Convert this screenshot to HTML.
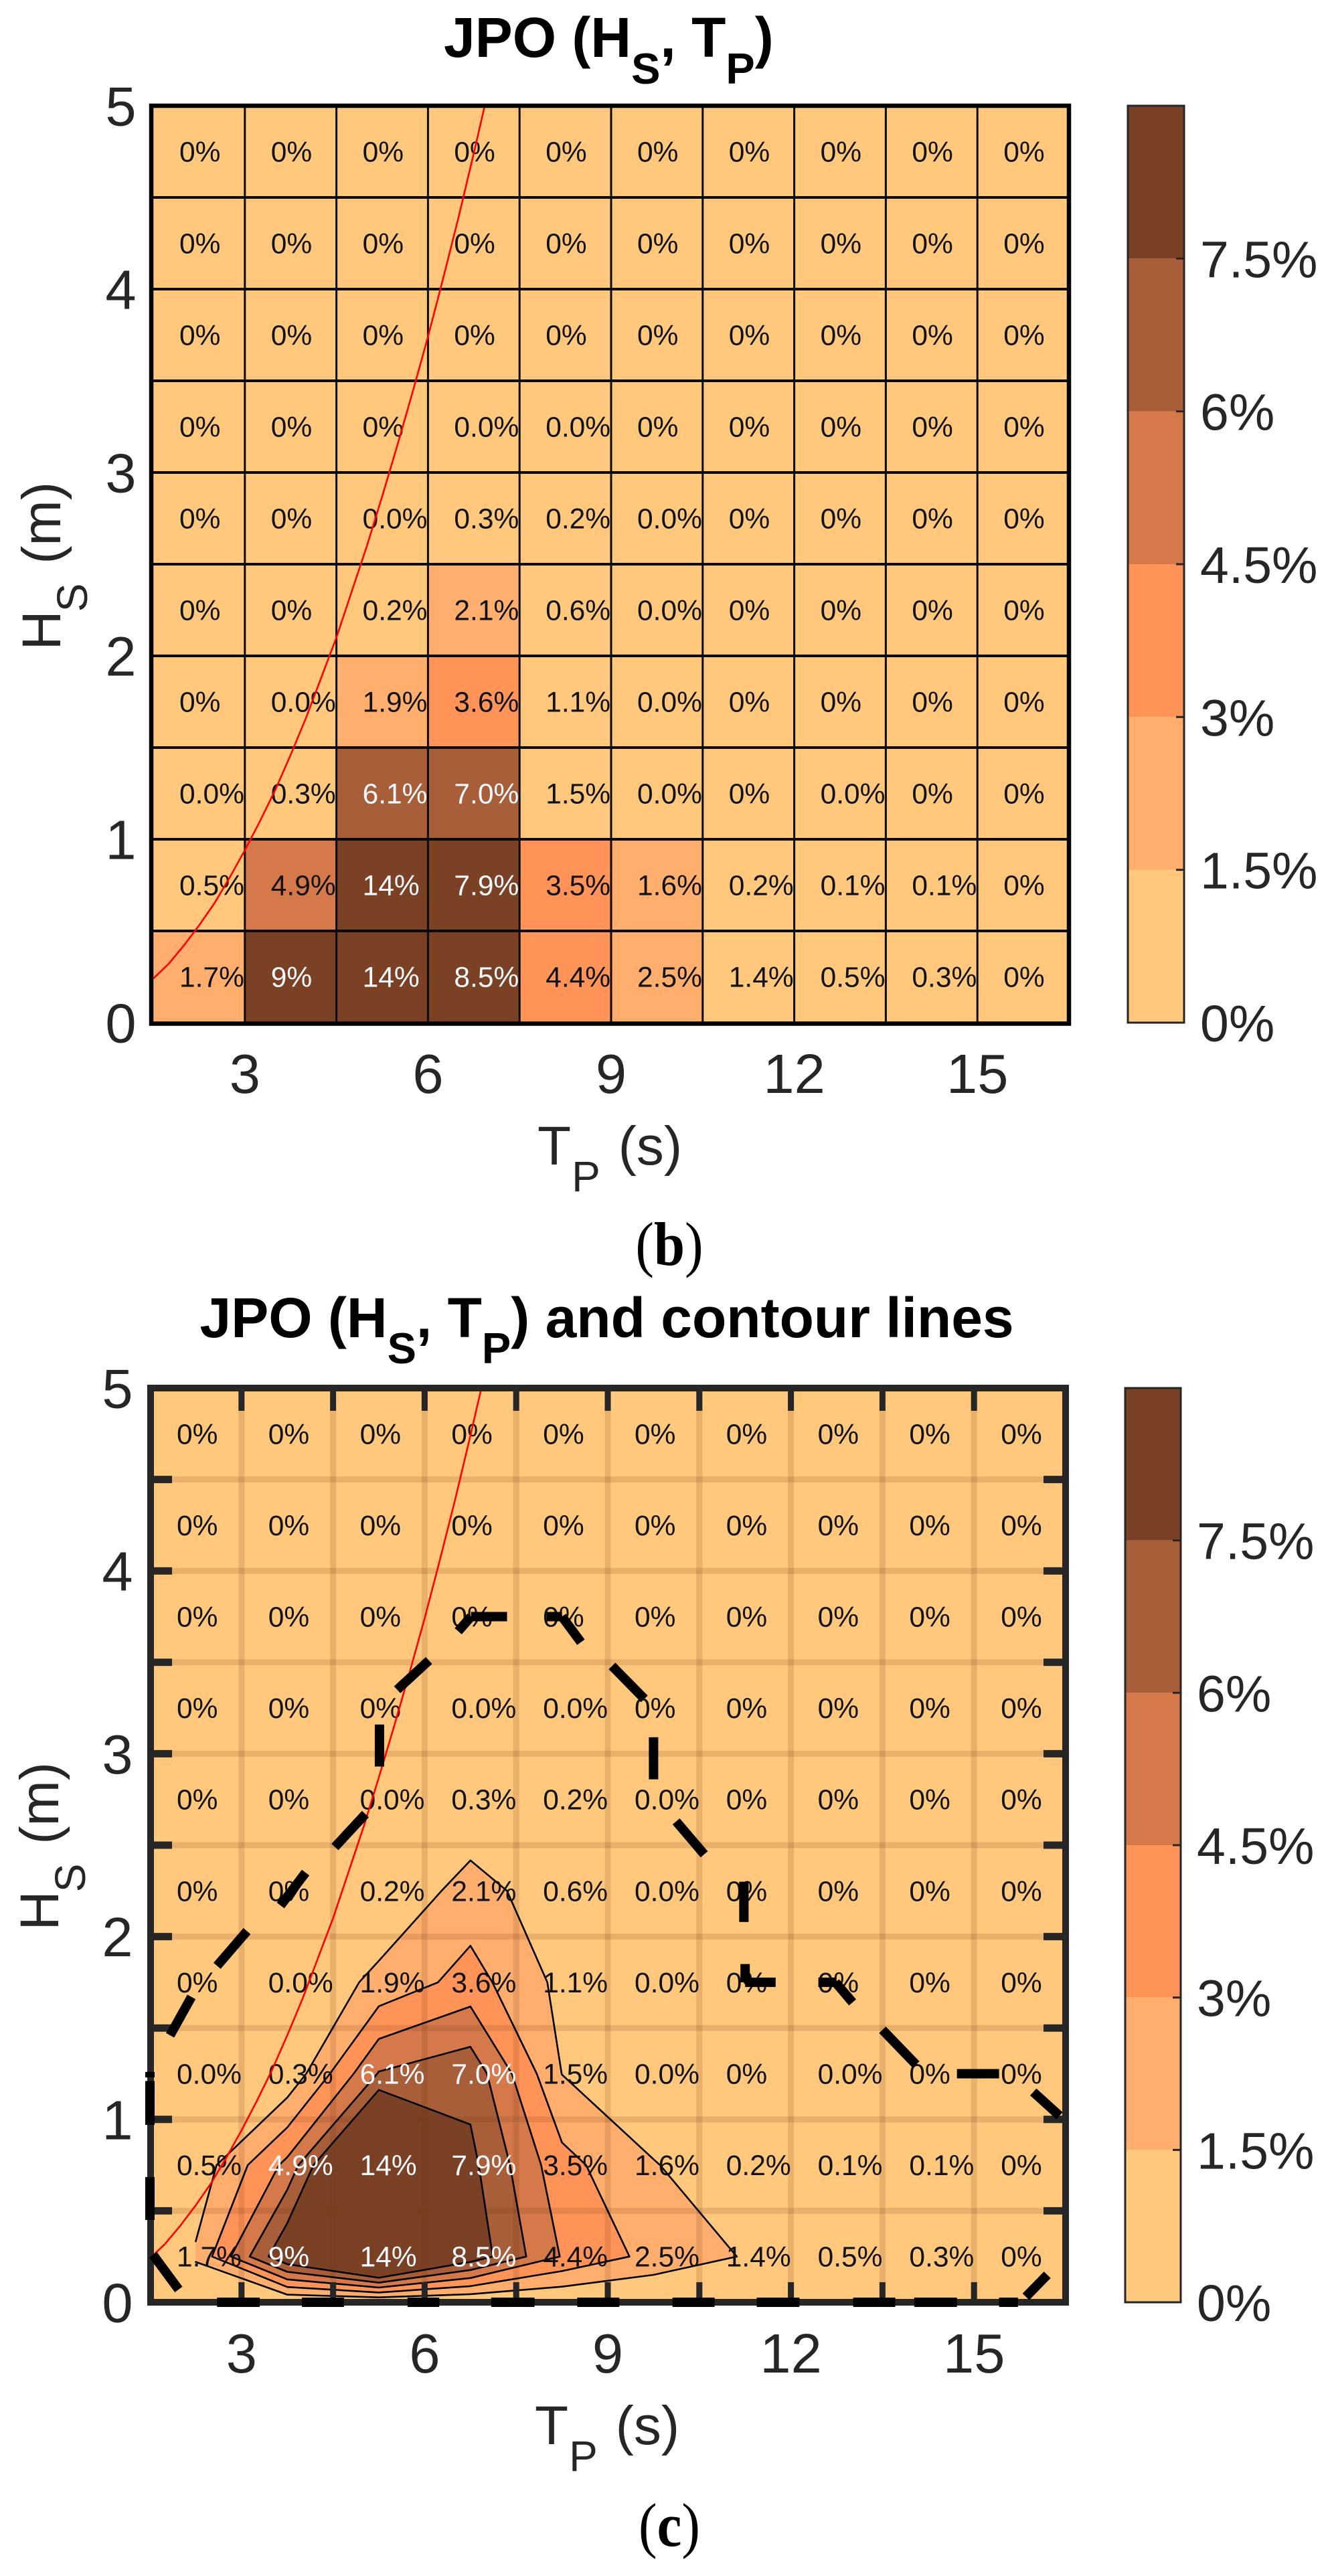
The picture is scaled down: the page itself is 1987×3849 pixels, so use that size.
<!DOCTYPE html>
<html lang="en">
<head>
<meta charset="utf-8">
<title>JPO (HS, TP) charts</title>
<style>
html,body{margin:0;padding:0;background:#fff;}
svg{display:block;font-family:"Liberation Sans",sans-serif;}
</style>
</head>
<body>
<svg id="figure" xmlns="http://www.w3.org/2000/svg" width="1987" height="3849" viewBox="0 0 1987 3849">
  <rect x="0" y="0" width="1987" height="3849" fill="#ffffff"/>

  <text x="663" y="85" font-size="84" font-weight="bold" fill="#000">JPO (H<tspan dy="40" font-size="65">S</tspan><tspan dy="-40">, T</tspan><tspan dy="40" font-size="65">P</tspan><tspan dy="-40">)</tspan></text>
  <text transform="translate(90,971.5) rotate(-90)" font-size="82" fill="#262626">H<tspan dy="40" dx="-2" font-size="64">S</tspan><tspan dy="-40" dx="6"> (m)</tspan></text>
  <text x="803" y="1740" font-size="82" fill="#262626">T<tspan dy="40" dx="1" font-size="64">P</tspan><tspan dy="-40" dx="4"> (s)</tspan></text>
  <g id="panel-b"></g>
  <text transform="translate(1000,1890) scale(0.9,1)" text-anchor="middle" font-family="'Liberation Serif',serif" font-size="92" fill="#000">(<tspan font-weight="bold">b</tspan>)</text>

  <text x="298.5" y="1998" font-size="84" font-weight="bold" fill="#000">JPO (H<tspan dy="39" font-size="65">S</tspan><tspan dy="-39">, T</tspan><tspan dy="39" font-size="65">P</tspan><tspan dy="-39">) and contour lines</tspan></text>
  <text transform="translate(87,2884.5) rotate(-90)" font-size="82" fill="#262626">H<tspan dy="40" dx="-2" font-size="64">S</tspan><tspan dy="-40" dx="6"> (m)</tspan></text>
  <text x="799" y="3652" font-size="82" fill="#262626">T<tspan dy="40" dx="1" font-size="64">P</tspan><tspan dy="-40" dx="4"> (s)</tspan></text>
  <g id="panel-c"></g>
  <text transform="translate(1000,3804) scale(0.9,1)" text-anchor="middle" font-family="'Liberation Serif',serif" font-size="92" fill="#000">(<tspan font-weight="bold">c</tspan>)</text>
</svg>

<script>
// ---------- data ----------
const tpEdges = [1.5, 3, 4.5, 6, 7.5, 9, 10.5, 12, 13.5, 15, 16.5];
const hsEdges = [0, 0.5, 1, 1.5, 2, 2.5, 3, 3.5, 4, 4.5, 5];
const xTicks = [3, 6, 9, 12, 15];
const yTicks = [0, 1, 2, 3, 4, 5];

// JPO values (percent), first row is the lowest HS bin
const jpoValues = [
  [1.7, 9, 14, 8.5, 4.4, 2.5, 1.4, 0.5, 0.3, 0],
  [0.5, 4.9, 14, 7.9, 3.5, 1.6, 0.2, 0.1, 0.1, 0],
  [0.04, 0.3, 6.1, 7.0, 1.48, 0.04, 0, 0.04, 0, 0],
  [0, 0.04, 1.9, 3.6, 1.1, 0.04, 0, 0, 0, 0],
  [0, 0, 0.2, 2.1, 0.6, 0.04, 0, 0, 0, 0],
  [0, 0, 0.04, 0.3, 0.2, 0.04, 0, 0, 0, 0],
  [0, 0, 0, 0.04, 0.04, 0, 0, 0, 0, 0],
  [0, 0, 0, 0, 0, 0, 0, 0, 0, 0],
  [0, 0, 0, 0, 0, 0, 0, 0, 0, 0],
  [0, 0, 0, 0, 0, 0, 0, 0, 0, 0]
];
const jpoLabels = [
  ['1.7%','9%','14%','8.5%','4.4%','2.5%','1.4%','0.5%','0.3%','0%'],
  ['0.5%','4.9%','14%','7.9%','3.5%','1.6%','0.2%','0.1%','0.1%','0%'],
  ['0.0%','0.3%','6.1%','7.0%','1.5%','0.0%','0%','0.0%','0%','0%'],
  ['0%','0.0%','1.9%','3.6%','1.1%','0.0%','0%','0%','0%','0%'],
  ['0%','0%','0.2%','2.1%','0.6%','0.0%','0%','0%','0%','0%'],
  ['0%','0%','0.0%','0.3%','0.2%','0.0%','0%','0%','0%','0%'],
  ['0%','0%','0%','0.0%','0.0%','0%','0%','0%','0%','0%'],
  ['0%','0%','0%','0%','0%','0%','0%','0%','0%','0%'],
  ['0%','0%','0%','0%','0%','0%','0%','0%','0%','0%'],
  ['0%','0%','0%','0%','0%','0%','0%','0%','0%','0%']
];

const colorLevels = [1.5, 3, 4.5, 6, 7.5];
const colorbarTicks = [0, 1.5, 3, 4.5, 6, 7.5];
const colorbarLabels = ['0%', '1.5%', '3%', '4.5%', '6%', '7.5%'];
const colorbarMax = 9;
const bandColors = ['#FFC87C', '#FFAE6E', '#FF9358', '#D5784A', '#A85E38', '#7A4125'];

// Wave-steepness limit (red curve)
const steepnessTp = [1.5, 1.75, 2, 2.25, 2.5, 2.75, 3, 3.25, 3.5, 3.75, 4, 4.25, 4.5, 4.75, 5, 5.25, 5.5, 5.75, 6, 6.25, 6.5, 6.75, 6.93];
const steepnessHs = [0.24, 0.32, 0.42, 0.53, 0.65, 0.79, 0.94, 1.1, 1.27, 1.46, 1.66, 1.88, 2.1, 2.35, 2.6, 2.87, 3.15, 3.44, 3.74, 4.06, 4.39, 4.74, 5];

// Thick dashed boundary: each entry is [tpStart, hsStart, tpEnd, hsEnd]
const boundaryDashes = [
  [1.55,0.26,1.97,0.07],[1.5,0.97,1.5,1.21],[1.5,0.45,1.5,0.685],[1.5,1.23,1.5,1.26],
  [1.83,1.46,2.18,1.67],[2.6,1.84,3.09,2.03],[3.64,2.17,4.05,2.35],[4.53,2.49,5.03,2.67],
  [5.26,2.93,5.26,3.16],[5.55,3.35,6.07,3.51],[6.55,3.67,6.76,3.75],[6.76,3.75,7.35,3.75],
  [8,3.75,8.25,3.75],[8.25,3.75,8.56,3.61],[9.07,3.48,9.6,3.3],[9.75,2.86,9.75,3.09],
  [10.12,2.63,10.58,2.45],[11.23,2.08,11.23,2.3],[11.25,1.85,11.25,1.75],[11.25,1.75,11.75,1.75],
  [12.45,1.75,12.73,1.75],[12.73,1.75,13.01,1.64],[13.5,1.49,14.05,1.3],[14.72,1.25,15.41,1.25],
  [15.97,1.15,16.4,1.02],[15.85,0.03,16.2,0.15],
  [2.6,0,3.3,0],[3.99,0,4.68,0],[5.72,0,6.24,0],[7.09,0,7.8,0],[8.5,0,9.19,0],[10.06,0,10.75,0],
  [11.44,0,12.14,0],[13.02,0,13.71,0],[14.02,0,14.72,0],[15.41,0,15.72,0]
];

// ---------- drawing ----------
const NS = 'http://www.w3.org/2000/svg';

function make(parent, tag, attrs, text) {
  const el = document.createElementNS(NS, tag);
  for (const k in attrs) el.setAttribute(k, attrs[k]);
  if (text !== undefined) el.textContent = text;
  parent.appendChild(el);
  return el;
}

function bandIndex(v) {
  let i = 0;
  for (const l of colorLevels) if (v >= l) i++;
  return i;
}

function contourData() {
  // Field sampled at bin centres plus a zero row at HS = 0
  const tp = [];
  for (let i = 0; i < tpEdges.length - 1; i++) tp.push((tpEdges[i] + tpEdges[i + 1]) / 2);
  const hs = [0];
  for (let j = 0; j < hsEdges.length - 1; j++) hs.push((hsEdges[j] + hsEdges[j + 1]) / 2);
  const z = [tp.map(() => 0)].concat(jpoValues);
  return { tp, hs, z };
}

function contourPaths(level, xs, ys) {
  const { tp, hs, z } = contourData();
  let fill = '', line = '';
  for (let j = 0; j < hs.length - 1; j++) {
    for (let i = 0; i < tp.length - 1; i++) {
      const c = [
        [tp[i], hs[j], z[j][i]],
        [tp[i + 1], hs[j], z[j][i + 1]],
        [tp[i + 1], hs[j + 1], z[j + 1][i + 1]],
        [tp[i], hs[j + 1], z[j + 1][i]]
      ];
      const poly = [], cross = [];
      for (let k = 0; k < 4; k++) {
        const a = c[k], b = c[(k + 1) % 4];
        if (a[2] >= level) poly.push([a[0], a[1]]);
        if ((a[2] >= level) !== (b[2] >= level)) {
          const f = (level - a[2]) / (b[2] - a[2]);
          const p = [a[0] + f * (b[0] - a[0]), a[1] + f * (b[1] - a[1])];
          poly.push(p);
          cross.push(p);
        }
      }
      if (poly.length > 2) {
        fill += 'M' + poly.map(p => xs(p[0]).toFixed(1) + ' ' + ys(p[1]).toFixed(1)).join('L') + 'Z';
      }
      for (let k = 0; k + 1 < cross.length; k += 2) {
        line += 'M' + xs(cross[k][0]).toFixed(1) + ' ' + ys(cross[k][1]).toFixed(1) +
                'L' + xs(cross[k + 1][0]).toFixed(1) + ' ' + ys(cross[k + 1][1]).toFixed(1);
      }
    }
  }
  return { fill, line };
}

function drawPanel(root, g) {
  const xs = t => g.left + (t - tpEdges[0]) * (g.right - g.left) / (tpEdges[tpEdges.length - 1] - tpEdges[0]);
  const ys = h => g.bottom - (h - hsEdges[0]) * (g.bottom - g.top) / (hsEdges[hsEdges.length - 1] - hsEdges[0]);
  const axisColor = g.contours ? '#262626' : '#000';

  // Background / tiles
  if (g.contours) {
    const bg = make(root, 'rect', { x: g.left, y: g.top, width: g.right - g.left, height: g.bottom - g.top, fill: bandColors[0] });
    
    
    colorLevels.forEach((lvl, idx) => {
      const p = contourPaths(lvl, xs, ys);
      const band = make(root, 'path', { d: p.fill, fill: bandColors[idx + 1], stroke: bandColors[idx + 1], 'stroke-width': 1 });
      
      
    });
  } else {
    jpoValues.forEach((row, j) => row.forEach((v, i) => {
      const cell = make(root, 'rect', {
        x: xs(tpEdges[i]), y: ys(hsEdges[j + 1]),
        width: xs(tpEdges[i + 1]) - xs(tpEdges[i]),
        height: ys(hsEdges[j]) - ys(hsEdges[j + 1]),
        fill: bandColors[bandIndex(v)]
      });
      
      
    }));
  }

  // Gridlines
  const gridStroke = g.contours ? 'rgba(110,55,20,0.16)' : '#0a0a0a';
  const gridWidthV = g.contours ? 9 : 3;
  const gridWidthH = g.contours ? 9 : 4;
  tpEdges.slice(1, -1).forEach(t => {
    const gl = make(root, 'line', { x1: xs(t), x2: xs(t), y1: g.top, y2: g.bottom, stroke: gridStroke, 'stroke-width': gridWidthV });
    
    
  });
  hsEdges.slice(1, -1).forEach(h => {
    const gl = make(root, 'line', { x1: g.left, x2: g.right, y1: ys(h), y2: ys(h), stroke: gridStroke, 'stroke-width': gridWidthH });
    
    
  });

  // Contour lines
  if (g.contours) {
    colorLevels.forEach(lvl => {
      const p = contourPaths(lvl, xs, ys);
      const cl = make(root, 'path', { d: p.line, fill: 'none', stroke: '#000', 'stroke-width': 2.6, 'stroke-linecap': 'round' });
      
      
    });
  }

  // Cell labels
  jpoLabels.forEach((row, j) => row.forEach((label, i) => {
    const v = jpoValues[j][i];
    const white = g.contours ? v >= 4.5 : v >= 6;
    const t = make(root, 'text', {
      x: xs(tpEdges[i]) + g.textOffset,
      y: (ys(hsEdges[j]) + ys(hsEdges[j + 1])) / 2 + 15,
      'font-size': 42.5,
      fill: white ? '#f6faff' : '#111'
    }, label);
    
    
  }));

  // Steepness curve
  const curve = make(root, 'path', {
    d: 'M' + steepnessTp.map((t, i) => xs(t).toFixed(1) + ' ' + ys(steepnessHs[i]).toFixed(1)).join('L'),
    fill: 'none', stroke: '#ff0000', 'stroke-width': 2.6
  });
  
  

  // Frame & ticks
  const fw = g.contours ? 10 : 6.5;
  const frame = make(root, 'rect', { x: g.frameLeft, y: g.top, width: g.right - g.frameLeft, height: g.frameBottom - g.top, fill: 'none', stroke: axisColor, 'stroke-width': fw });
  
  

  if (g.contours) {
    tpEdges.slice(1, -1).forEach(t => {
      const tb = make(root, 'line', { x1: xs(t), x2: xs(t), y1: g.bottom, y2: g.bottom - 30, stroke: axisColor, 'stroke-width': 9 });
      
      
      const tt = make(root, 'line', { x1: xs(t), x2: xs(t), y1: g.top, y2: g.top + 34, stroke: axisColor, 'stroke-width': 9 });
      
      
    });
    hsEdges.slice(1, -1).forEach(h => {
      const tl = make(root, 'line', { x1: g.left, x2: g.left + 33, y1: ys(h), y2: ys(h), stroke: axisColor, 'stroke-width': 11 });
      
      
      const tr = make(root, 'line', { x1: g.right, x2: g.right - 33, y1: ys(h), y2: ys(h), stroke: axisColor, 'stroke-width': 11 });
      
      
    });
    boundaryDashes.forEach(d => {
      const dash = make(root, 'line', { x1: xs(d[0]), y1: ys(d[1]), x2: xs(d[2]), y2: ys(d[3]), stroke: '#000', 'stroke-width': 14 });
      
      
    });
  }

  // Tick labels
  xTicks.forEach(t => {
    const tx = make(root, 'text', { x: xs(t), y: g.bottom + 105, 'text-anchor': 'middle', 'font-size': 83, fill: '#262626' }, String(t));
    
    
  });
  yTicks.forEach(h => {
    const ty = make(root, 'text', { x: g.left - 25.5, y: ys(h) + 29.5, 'text-anchor': 'end', 'font-size': 83, fill: '#262626' }, String(h));
    
    
  });

  // Colorbar
  const cy = v => g.bottom - v * (g.bottom - g.top) / colorbarMax;
  const edges = [0].concat(colorLevels, [colorbarMax]);
  bandColors.forEach((col, i) => {
    const seg = make(root, 'rect', { x: g.cbLeft, y: cy(edges[i + 1]), width: g.cbRight - g.cbLeft, height: cy(edges[i]) - cy(edges[i + 1]), fill: col });
    
    
  });
  const cbFrame = make(root, 'rect', { x: g.cbLeft, y: cy(colorbarMax), width: g.cbRight - g.cbLeft, height: cy(0) - cy(colorbarMax), fill: 'none', stroke: '#262626', 'stroke-width': 3 });
  
  
  colorbarTicks.forEach((v, i) => {
    const mark = make(root, 'line', { x1: g.cbRight - 12, x2: g.cbRight, y1: cy(v), y2: cy(v), stroke: '#262626', 'stroke-width': 3 });
    
    
    const lab = make(root, 'text', { x: g.cbRight + 24, y: cy(v) + 28, 'font-size': 77, fill: '#262626' }, colorbarLabels[i]);
    
    
  });
}

drawPanel(document.getElementById('panel-b'), { left: 229, right: 1597, top: 158, bottom: 1528, frameLeft: 226, frameBottom: 1529.5, textOffset: 39, cbLeft: 1685, cbRight: 1769, contours: false });
drawPanel(document.getElementById('panel-c'), { left: 224, right: 1592, top: 2074, bottom: 3440, frameLeft: 225, frameBottom: 3440, textOffset: 40, cbLeft: 1681, cbRight: 1764, contours: true });
</script>
</body>
</html>
